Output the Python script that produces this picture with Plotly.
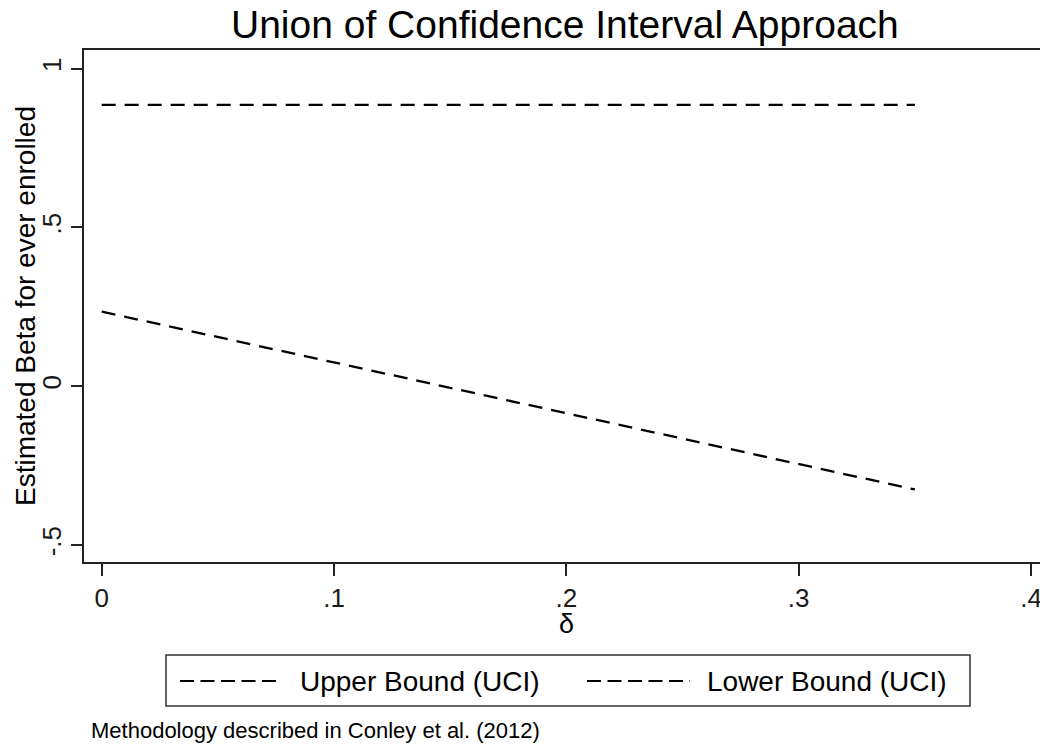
import plotly.graph_objects as go

# Sensitivity grid for delta and the two bounds of the union of confidence intervals
delta = [0.0, 0.05, 0.10, 0.15, 0.20, 0.25, 0.30, 0.35]
upper_bound = [0.886, 0.886, 0.886, 0.886, 0.886, 0.886, 0.886, 0.886]
lower_bound = [0.235, 0.155, 0.075, -0.005, -0.085, -0.165, -0.245, -0.325]
series_names = ["Upper Bound (UCI)", "Lower Bound (UCI)"]

x_ticks = [0.0, 0.1, 0.2, 0.3, 0.4]
x_tick_text = ["0", ".1", ".2", ".3", ".4"]
y_ticks = [-0.5, 0.0, 0.5, 1.0]
y_tick_text = ["-.5", "0", ".5", "1"]

FONT = "Liberation Sans, Arial, sans-serif"
INK = "#1a1a1a"
DASH = "14px,9px"
KEY_DASH = "14px,6.5px"
dash_style = dict(color="black", width=2.3, dash=DASH)

fig = go.Figure()
fig.add_trace(go.Scatter(x=delta, y=upper_bound, mode="lines",
                         name=series_names[0], line=dash_style))
fig.add_trace(go.Scatter(x=delta, y=lower_bound, mode="lines",
                         name=series_names[1], line=dash_style))

W, H = 1040, 745
L, R, T, B = 84, 0, 50, 183
pw, ph = W - L - R, H - T - B


def px(xpix):
    return (xpix - L) / pw


def py(ypix):
    return (H - B - ypix) / ph


# Boxed key below the plot: frame, dashed samples and labels
key_y = py(681)
shapes = [
    dict(type="rect", xref="paper", yref="paper", x0=px(166), x1=px(970),
         y0=py(655), y1=py(706), line=dict(color="#333333", width=1.5),
         fillcolor="white", layer="below"),
    dict(type="line", xref="paper", yref="paper", x0=px(180), x1=px(276),
         y0=key_y, y1=key_y, line=dict(color="black", width=2.2, dash=KEY_DASH)),
    dict(type="line", xref="paper", yref="paper", x0=px(587), x1=px(690),
         y0=key_y, y1=key_y, line=dict(color="black", width=2.2, dash=KEY_DASH)),
]

key_labels = [
    dict(text=series_names[0], xref="paper", yref="paper", x=px(298), y=key_y,
         xanchor="left", yanchor="middle", showarrow=False,
         font=dict(size=28, family=FONT, color="black")),
    dict(text=series_names[1], xref="paper", yref="paper", x=px(705), y=key_y,
         xanchor="left", yanchor="middle", showarrow=False,
         font=dict(size=28, family=FONT, color="black")),
]

fig.update_layout(
    width=W, height=H,
    margin=dict(l=L, r=R, t=T, b=B, pad=0),
    paper_bgcolor="white", plot_bgcolor="white",
    font=dict(family=FONT, color=INK),
    showlegend=False,
    shapes=shapes,
    xaxis=dict(
        range=[-0.00762, 0.40387], tickvals=x_ticks, ticktext=x_tick_text,
        showgrid=False, zeroline=False, showline=True, linecolor="#222222",
        linewidth=2, mirror=True, ticks="outside", ticklen=12, tickwidth=1.5,
        tickcolor="#222222", tickfont=dict(size=26, family=FONT, color=INK),
        ticklabeloverflow="allow", automargin=False,
    ),
    yaxis=dict(
        range=[-0.5535, 1.0589], tickvals=y_ticks, ticktext=y_tick_text,
        showgrid=False, zeroline=False, showline=True, linecolor="#222222",
        linewidth=2, ticks="outside", ticklen=11, tickwidth=1.5,
        tickcolor="#222222", tickangle=-90,
        tickfont=dict(size=26, family=FONT, color=INK), automargin=False,
    ),
    annotations=[
        dict(text="Union of Confidence Interval Approach", xref="paper", yref="paper",
             x=px(565), y=py(24), xanchor="center", yanchor="middle",
             showarrow=False, font=dict(size=39, family=FONT, color="black")),
        dict(text="Estimated Beta for ever enrolled", xref="paper", yref="paper",
             x=px(25), y=py(306), xanchor="center", yanchor="middle", textangle=-90,
             showarrow=False, font=dict(size=28, family=FONT, color="black")),
        dict(text="δ", xref="paper", yref="paper",
             x=px(566), y=py(624), xanchor="center", yanchor="middle",
             showarrow=False, font=dict(size=27, family=FONT, color="black")),
        dict(text="Methodology described in Conley et al. (2012)", xref="paper",
             yref="paper", x=px(89), y=py(730), xanchor="left", yanchor="middle",
             showarrow=False, font=dict(size=22, family=FONT, color="black")),
    ] + key_labels,
)

fig.write_html("out.html")
